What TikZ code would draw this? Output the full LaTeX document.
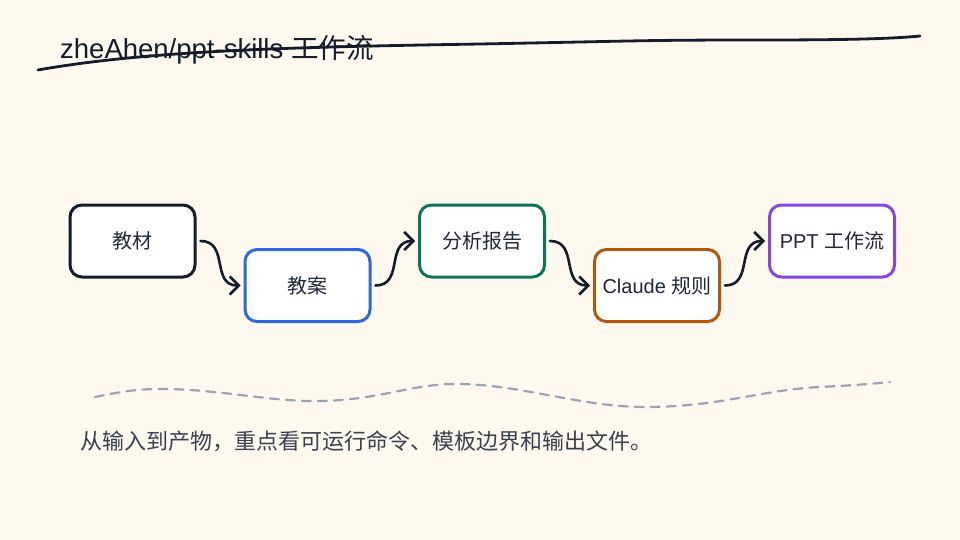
\documentclass[tikz,border=0pt]{standalone}
\usepackage{fontspec}
\setmainfont{Liberation Sans}
\newfontfamily\cjk{Noto Sans CJK SC}
\usetikzlibrary{arrows.meta}
\definecolor{bg}{HTML}{FDF9EF}
\definecolor{ink}{HTML}{141B2B}
\definecolor{cblue}{HTML}{2F68E0}
\definecolor{cgreen}{HTML}{0C7558}
\definecolor{cbrown}{HTML}{B2570F}
\definecolor{cpurple}{HTML}{8645E2}
\definecolor{dashgray}{HTML}{9CA3B3}
\definecolor{txt}{HTML}{1F2937}
\definecolor{subtxt}{HTML}{3A4150}
\tikzset{
  stepbox/.style={draw=#1, line width=3pt, rounded corners=12pt, fill=white,
    minimum width=125pt, minimum height=72pt, inner sep=0pt, text=txt, font=\fontsize{20}{22}\selectfont},
  flow/.style={draw=ink, line width=2.6pt, line cap=round,
    -{Straight Barb[length=9pt,width=18pt,line width=2.6pt]}, shorten <=4pt, shorten >=3pt}
}
\begin{document}
\begin{tikzpicture}[x=1pt,y=-1pt]
\fill[bg] (0,0) rectangle (960,540);
\useasboundingbox (0,0) rectangle (960,540);

% title
\node[anchor=base west, inner sep=0pt, text=ink, font=\fontsize{27.5}{30}\selectfont] (title) at (60,59) {zheAhen/ppt-skills {\cjk 工作流}};
\draw[ink, line width=2.8pt, line cap=round] (38,70) .. controls (150,50) and (300,47) .. (480,44) .. controls (640,41) and (640,40) .. (760,40) .. controls (840,40) and (890,39) .. (920,36);

% nodes
\node[stepbox=ink] (n1) at (132.5,241) {\cjk 教材};
\node[stepbox=cblue] (n2) at (307.5,285.5) {\cjk 教案};
\node[stepbox=cgreen] (n3) at (482,241) {\cjk 分析报告};
\node[stepbox=cbrown] (n4) at (657,285.5) {Claude {\cjk 规则}};
\node[stepbox=cpurple] (n5) at (832,241) {PPT {\cjk 工作流}};

% connectors
\draw[flow] (n1.east) to[out=0,in=180,looseness=1.3] (n2.west);
\draw[flow] (n2.east) to[out=0,in=180,looseness=1.3] (n3.west);
\draw[flow] (n3.east) to[out=0,in=180,looseness=1.3] (n4.west);
\draw[flow] (n4.east) to[out=0,in=180,looseness=1.3] (n5.west);

% dashed wave
\draw[dashgray, line width=2.2pt, dash pattern=on 9pt off 7pt, line cap=round]
  (95,397) .. controls (120,392) and (135,389) .. (160,389)
  .. controls (220,389) and (270,402) .. (320,401)
  .. controls (380,400) and (410,384) .. (456,384)
  .. controls (520,384) and (580,407) .. (645,407)
  .. controls (720,407) and (760,390) .. (820,387)
  .. controls (860,385) and (880,383) .. (890,382);

% caption
\node[anchor=west, inner sep=0pt, text=subtxt, font=\cjk\fontsize{22}{24}\selectfont] (cap) at (80,441) {从输入到产物，重点看可运行命令、模板边界和输出文件。};
\end{tikzpicture}
\end{document}
